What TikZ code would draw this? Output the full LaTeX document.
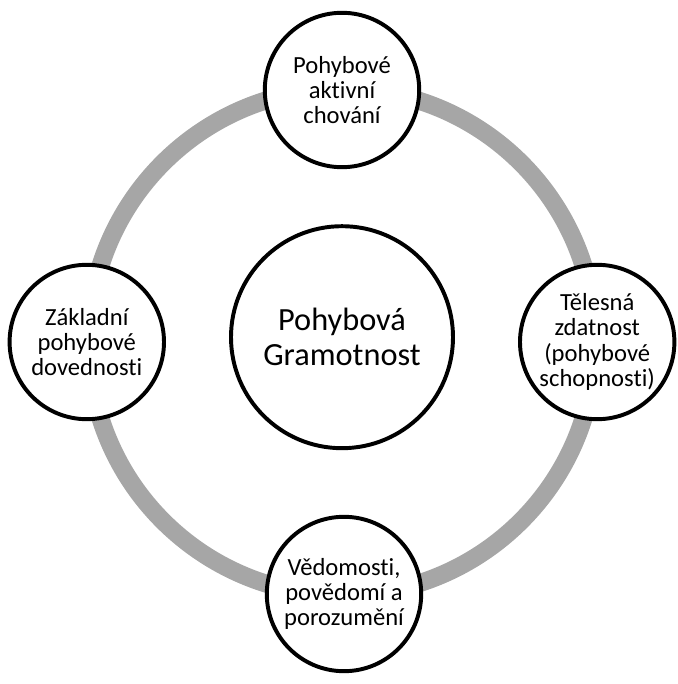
\documentclass[tikz,border=0pt]{standalone}
\usepackage{fontspec}
\setmainfont{Carlito}[Ligatures=NoCommon]
\definecolor{ringgray}{RGB}{166,166,166}

\begin{document}
\begin{tikzpicture}[
		part/.style={circle,draw=black,line width=2.8pt,fill=white,minimum size=3.86cm,
			align=center,inner sep=0pt,font={\fontsize{17.5}{18}\selectfont}},
		core/.style={part,minimum size=5.55cm,font={\fontsize{23}{25}\selectfont}}
	]
			\useasboundingbox (-8.55,-8.55) rectangle (8.375,8.55);

			\draw[ringgray,line width=0.45cm] (0,0) circle (6.33);

			\node[core] (gram) at (0,0.12) {Pohybová\\Gramotnost};
			\node[part] (akt) at (0,6.3) {Pohybové\\aktivní\\chování};
			\node[part] (zdat) at (6.38,0) {Tělesná\\zdatnost\\(pohybové\\schopnosti)};
			\node[part] (ved) at (0.05,-6.3) {Vědomosti,\\povědomí a\\porozumění};
			\node[part] (zakl) at (-6.38,0) {Základní\\pohybové\\dovednosti};
		\end{tikzpicture}
\end{document}
